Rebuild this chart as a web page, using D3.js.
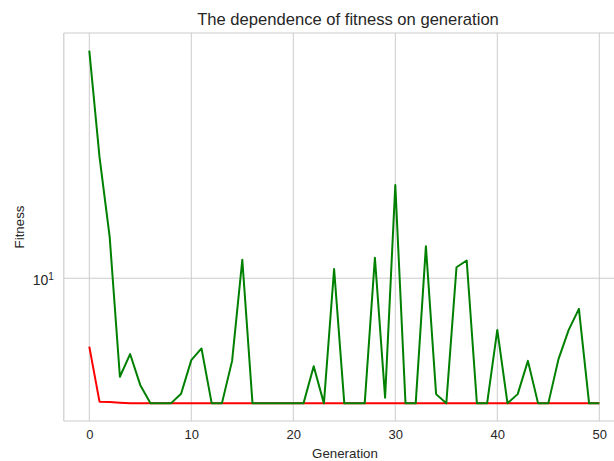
<!DOCTYPE html>
<html>
<head>
<meta charset="utf-8">
<script src="https://cdn.jsdelivr.net/npm/d3@7"></script>
<style>
  html, body { margin: 0; padding: 0; background: #fff; }
  svg { display: block; font-family: "Liberation Sans", Arial, sans-serif; }
</style>
</head>
<body>
<script>
const generations = d3.range(0, 51);
const fitnessRed = [6.06, 4.05, 4.04, 4.02, 4.0, 4.0, 4.0, 4.0, 4.0, 4.0,
  4.0, 4.0, 4.0, 4.0, 4.0, 4.0, 4.0, 4.0, 4.0, 4.0,
  4.0, 4.0, 4.0, 4.0, 4.0, 4.0, 4.0, 4.0, 4.0, 4.0,
  4.0, 4.0, 4.0, 4.0, 4.0, 4.0, 4.0, 4.0, 4.0, 4.0,
  4.0, 4.0, 4.0, 4.0, 4.0, 4.0, 4.0, 4.0, 4.0, 4.0, 4.0];
const fitnessGreen = [52.96, 24.31, 13.51, 4.86, 5.74, 4.57, 4.0, 4.0, 4.0, 4.29,
  5.49, 5.98, 4.0, 4.0, 5.46, 11.45, 4.0, 4.0, 4.0, 4.0,
  4.0, 4.0, 5.25, 4.0, 10.70, 4.0, 4.0, 4.0, 11.62, 4.17,
  19.78, 4.0, 4.0, 12.64, 4.28, 4.0, 10.84, 11.39, 4.0, 4.0,
  6.85, 4.0, 4.28, 5.46, 4.0, 4.0, 5.53, 6.85, 7.99, 4.0, 4.0];
const xTickValues = [0, 10, 20, 30, 40, 50];
const yTickValues = [10];
const titleText = "The dependence of fitness on generation";
const xLabelText = "Generation";
const yLabelText = "Fitness";

const W = 614, H = 461;
const m = { left: 63.8, top: 33, right: 624.8, bottom: 421 };

const svg = d3.select("body").append("svg").attr("width", W).attr("height", H);

// x scale with 5% margins
const xMin = d3.min(generations), xMax = d3.max(generations);
const xPad = (xMax - xMin) * 0.05;
const x = d3.scaleLinear().domain([xMin - xPad, xMax + xPad]).range([m.left, m.right]);

// log y scale with 5% margins in log space
const allVals = fitnessRed.concat(fitnessGreen);
const lmin = Math.log10(d3.min(allVals)), lmax = Math.log10(d3.max(allVals));
const lpad = (lmax - lmin) * 0.05;
const y = d3.scaleLog().domain([Math.pow(10, lmin - lpad), Math.pow(10, lmax + lpad)]).range([m.bottom, m.top]);

const gridColor = "#cccccc";
const textColor = "#262626";

// grid
svg.append("g").selectAll("line.vg").data(xTickValues).join("line")
  .attr("x1", d => x(d)).attr("x2", d => x(d))
  .attr("y1", m.top).attr("y2", m.bottom)
  .attr("stroke", gridColor).attr("stroke-width", 1);
svg.append("g").selectAll("line.hg").data(yTickValues).join("line")
  .attr("x1", m.left).attr("x2", m.right)
  .attr("y1", d => y(d)).attr("y2", d => y(d))
  .attr("stroke", gridColor).attr("stroke-width", 1);

// spines
svg.append("line").attr("x1", m.left).attr("x2", m.right).attr("y1", m.top).attr("y2", m.top)
  .attr("stroke", gridColor).attr("stroke-width", 1.2);
svg.append("line").attr("x1", m.left).attr("x2", m.right).attr("y1", m.bottom).attr("y2", m.bottom)
  .attr("stroke", gridColor).attr("stroke-width", 1.2);
svg.append("line").attr("x1", m.left).attr("x2", m.left).attr("y1", m.top).attr("y2", m.bottom)
  .attr("stroke", gridColor).attr("stroke-width", 1.2);

// x tick labels via axis
const xAxis = d3.axisBottom(x).tickValues(xTickValues).tickSize(0).tickPadding(9).tickFormat(d3.format("d"));
const gx = svg.append("g").attr("transform", `translate(0,${m.bottom})`).call(xAxis);
gx.select(".domain").remove();
gx.selectAll("text").attr("fill", textColor).style("font-size", "13px")
  .style("font-family", '"Liberation Sans", Arial, sans-serif');

// y tick label 10^1
const yAxis = d3.axisLeft(y).tickValues(yTickValues).tickSize(0).tickPadding(10).tickFormat("");
const gy = svg.append("g").attr("transform", `translate(${m.left},0)`).call(yAxis);
gy.select(".domain").remove();
gy.selectAll(".tick").each(function(d) {
  const t = d3.select(this).select("text");
  t.attr("fill", textColor).style("font-size", "14px")
    .style("font-family", '"Liberation Sans", Arial, sans-serif')
    .attr("dy", "0.45em");
  const exp = Math.round(Math.log10(d));
  t.append("tspan").text("10");
  t.append("tspan").text(String(exp)).attr("dy", "-0.55em").style("font-size", "10px");
});

// lines
const line = (vals) => d3.line().x((d, i) => x(generations[i])).y(d => y(d))(vals);
svg.append("path").attr("d", line(fitnessRed)).attr("fill", "none")
  .attr("stroke", "#ff0000").attr("stroke-width", 2).attr("stroke-linejoin", "round");
svg.append("path").attr("d", line(fitnessGreen)).attr("fill", "none")
  .attr("stroke", "#008000").attr("stroke-width", 2).attr("stroke-linejoin", "round");

// title & labels
svg.append("text").attr("x", 348).attr("y", 25).attr("text-anchor", "middle")
  .attr("fill", textColor).style("font-size", "16.6px").text(titleText);
svg.append("text").attr("x", 345).attr("y", 457.5).attr("text-anchor", "middle")
  .attr("fill", textColor).style("font-size", "13.3px").text(xLabelText);
svg.append("text").attr("transform", `translate(24,${(m.top + m.bottom) / 2}) rotate(-90)`)
  .attr("text-anchor", "middle").attr("fill", textColor).style("font-size", "13.3px").text(yLabelText);
</script>
</body>
</html>
